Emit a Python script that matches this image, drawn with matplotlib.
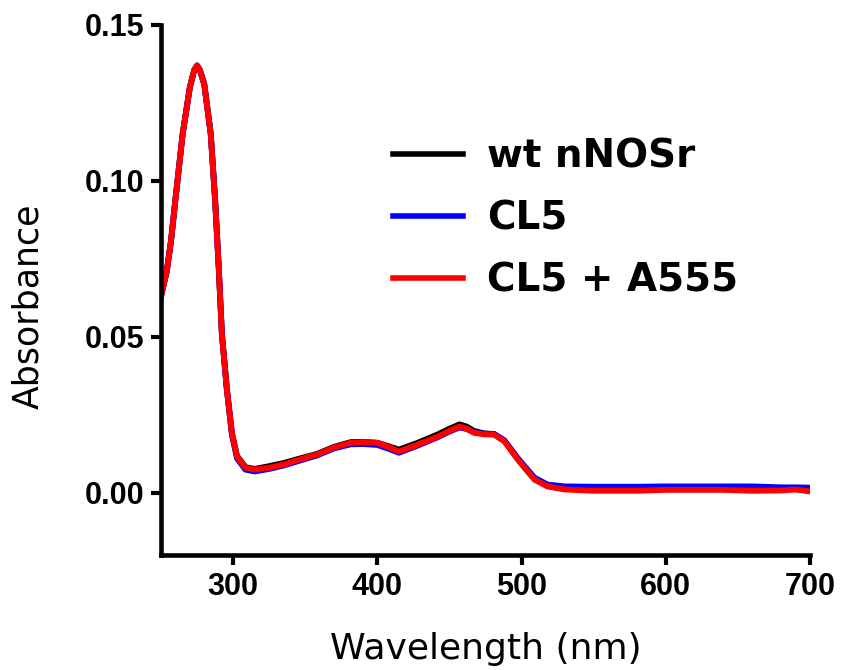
import matplotlib
matplotlib.use("Agg")
import matplotlib.pyplot as plt

# wavelength grid (nm)
wavelength = [250, 254, 257, 260, 265, 270, 273, 275, 277, 280, 284.5, 287.5,
              290, 292.2, 295.7, 299.2, 302.7, 308.5, 315, 325, 335, 345, 358,
              370, 381.5, 390, 400, 407, 415, 428, 442, 450, 457, 462, 467, 474,
              481, 488, 497.5, 503, 509, 518, 530, 550, 580, 600, 640, 660, 680,
              690, 700]

# absorbance traces
wt_nnosr = [0.063, 0.071, 0.081, 0.094, 0.115, 0.130, 0.1355, 0.137, 0.1355,
            0.131, 0.115, 0.094, 0.0725, 0.051, 0.033, 0.019, 0.0118, 0.0082,
            0.0076, 0.0085, 0.0095, 0.0108, 0.0124, 0.0147, 0.0162, 0.0163,
            0.0160, 0.0150, 0.0138, 0.0160, 0.0187, 0.0205, 0.0219, 0.0212,
            0.0198, 0.0190, 0.0188, 0.0167, 0.0107, 0.0076, 0.0043, 0.0021,
            0.0012, 0.0010, 0.0010, 0.0011, 0.0011, 0.0010, 0.0011, 0.0012,
            0.0011]
cl5 = [0.063, 0.071, 0.081, 0.094, 0.115, 0.130, 0.1355, 0.137, 0.1355,
       0.131, 0.115, 0.094, 0.0725, 0.051, 0.033, 0.0185, 0.0110, 0.0074,
       0.0068, 0.0076, 0.0087, 0.0101, 0.0119, 0.0142, 0.0155, 0.0156,
       0.0153, 0.0142, 0.0128, 0.0151, 0.0178, 0.0196, 0.0209, 0.0204,
       0.0194, 0.0189, 0.0188, 0.0168, 0.0110, 0.0080, 0.0048, 0.0026,
       0.0020, 0.0019, 0.0019, 0.0020, 0.0020, 0.0020, 0.0017, 0.0017,
       0.0016]
cl5_a555 = [0.063, 0.071, 0.081, 0.094, 0.115, 0.130, 0.1355, 0.137, 0.1355,
            0.131, 0.115, 0.094, 0.0725, 0.051, 0.033, 0.019, 0.0116, 0.0080,
            0.0074, 0.0080, 0.0090, 0.0105, 0.0122, 0.0145, 0.0160, 0.0162,
            0.0160, 0.0148, 0.0132, 0.0154, 0.0180, 0.0198, 0.0212, 0.0205,
            0.0192, 0.0187, 0.0186, 0.0165, 0.0106, 0.0075, 0.0042, 0.0020,
            0.0010, 0.0006, 0.0006, 0.0009, 0.0009, 0.0006, 0.0007, 0.0010,
            0.0004]

series_labels = ["wt nNOSr", "CL5", "CL5 + A555"]
x_ticks = [300, 400, 500, 600, 700]
y_ticks = [0.00, 0.05, 0.10, 0.15]

fig = plt.figure(figsize=(8.42, 6.70), dpi=100)
ax = fig.add_axes([161 / 842, 1 - 555 / 670, 649 / 842, 530 / 670])

ax.plot(wavelength, wt_nnosr, color="black", lw=4.2, label=series_labels[0])
ax.plot(wavelength, cl5, color="#0000ff", lw=4.2, label=series_labels[1])
ax.plot(wavelength, cl5_a555, color="#ff0000", lw=4.2, label=series_labels[2])

ax.set_xlim(250, 700)
ax.set_ylim(-0.02, 0.15)
ax.set_xticks(x_ticks)
ax.set_yticks(y_ticks)
ax.set_yticklabels([f"{v:.2f}" for v in y_ticks])

for side in ["top", "right"]:
    ax.spines[side].set_visible(False)
for side in ["left", "bottom"]:
    ax.spines[side].set_linewidth(3.3)
    ax.spines[side].set_capstyle("projecting")

ax.tick_params(direction="out", length=7, width=3, pad=5)
for lab in ax.get_xticklabels() + ax.get_yticklabels():
    lab.set_fontfamily("Liberation Sans")
    lab.set_fontweight("bold")
    lab.set_fontsize(22)

ax.set_xlabel("Wavelength (nm)", fontsize=26, family="DejaVu Sans")
ax.set_ylabel("Absorbance", fontsize=25, family="DejaVu Sans")
ax.xaxis.set_label_coords(0.5, -0.146)
ax.yaxis.set_label_coords(-0.178, 0.47)

leg = ax.legend(loc="upper left", bbox_to_anchor=(393 / 842, 1 - 138 / 670),
                bbox_transform=fig.transFigure, frameon=False, borderpad=0,
                borderaxespad=0, handlelength=1.8, handletextpad=0.62,
                labelspacing=0.61,
                prop={"family": "DejaVu Sans", "weight": "bold", "size": 28})
for line in leg.get_lines():
    line.set_linewidth(4)

fig.savefig("out.png", dpi=100)
